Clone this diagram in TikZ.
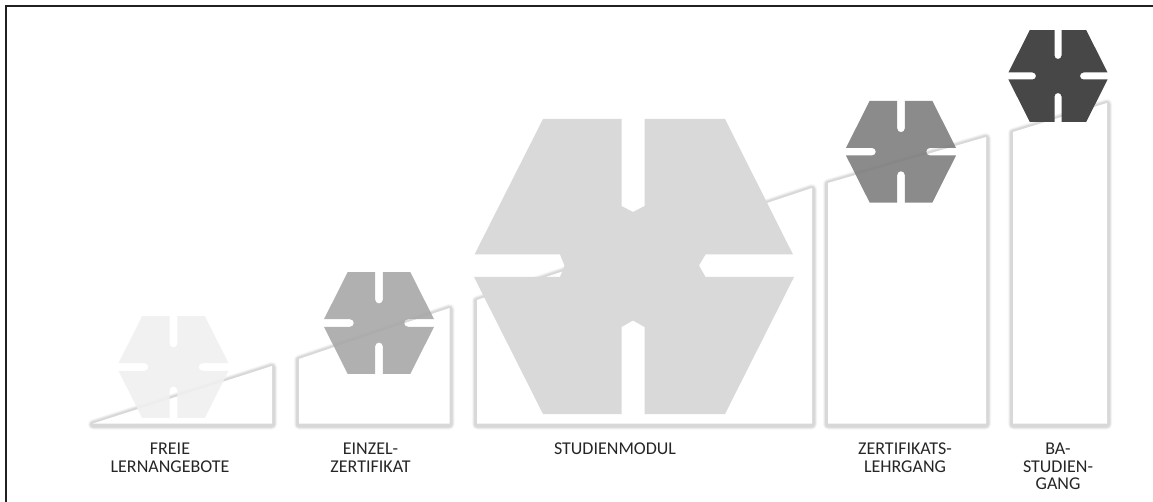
\documentclass[tikz,border=0pt]{standalone}
\usepackage{fontspec}
\setmainfont{Carlito}
% #1 x, #2 y, #3 style, #4 scale, #5 half slot width, #6 shoulder distance (vertical), #7 shoulder distance (horizontal)
\newcommand{\hexshape}[7]{%
\begin{scope}[shift={(#1,#2)}]
\path[#3] (-91*#4,-148*#4) -- (-#5,-148*#4) -- (-#5,-#6)
  .. controls (-#5,-#6+.55*#5) and (-.55*#5,-#6+#5) .. (0,-#6+#5)
  .. controls (.55*#5,-#6+#5) and (#5,-#6+.55*#5) .. (#5,-#6)
  -- (#5,-148*#4) -- (91*#4,-148*#4) -- (160*#4,-#5) -- (#7,-#5)
  .. controls (#7-.55*#5,-#5) and (#7-#5,-.55*#5) .. (#7-#5,0)
  .. controls (#7-#5,.55*#5) and (#7-.55*#5,#5) .. (#7,#5)
  -- (160*#4,#5) -- (91*#4,148*#4) -- (#5,148*#4) -- (#5,#6)
  .. controls (#5,#6-.55*#5) and (.55*#5,#6-#5) .. (0,#6-#5)
  .. controls (-.55*#5,#6-#5) and (-#5,#6-.55*#5) .. (-#5,#6)
  -- (-#5,148*#4) -- (-91*#4,148*#4) -- (-160*#4,#5) -- (-#7,#5)
  .. controls (-#7+.55*#5,#5) and (-#7+#5,.55*#5) .. (-#7+#5,0)
  .. controls (-#7+#5,-.55*#5) and (-#7+.55*#5,-#5) .. (-#7,-#5)
  -- (-160*#4,-#5) -- cycle;
\end{scope}}
\newcommand{\stepshape}[1]{%
\draw[shadowa] #1; \draw[shadowb] #1; \draw[shadowc] #1; \draw[shadowd] #1;
\fill[white] #1;}
\tikzset{x=1pt,y=-1pt,
 shadowa/.style={draw=black,draw opacity=.025,line width=10.5pt,line join=round,shift={(0,1)}},
 shadowb/.style={draw=black,draw opacity=.035,line width=9pt,line join=round,shift={(0,1)}},
 shadowc/.style={draw=black,draw opacity=.045,line width=7.5pt,line join=round,shift={(0,1)}},
 shadowd/.style={draw=black,draw opacity=.055,line width=6pt,line join=round,shift={(0,1)}},
 framing/.style={draw=black!87,line width=2pt},
 lbl/.style={font=\fontsize{18}{17.5}\selectfont,text=black!85,align=center,inner sep=0pt,anchor=north}}
\begin{document}
\begin{tikzpicture}
\useasboundingbox (0,0) rectangle (1153,502);
\fill[white] (0,0) rectangle (1153,502);
\draw[framing] (6,502) -- (6,6) -- (1153,6);
% steps
\stepshape{(93,423.5) -- (272,366) -- (272,423.5) -- cycle}
\stepshape{(299,359) -- (449.5,308) -- (449.5,423.5) -- (299,423.5) -- cycle}
\stepshape{(477,300) -- (812,188) -- (812,423.5) -- (477,423.5) -- cycle}
\stepshape{(828,183) -- (986,137) -- (986,423.5) -- (828,423.5) -- cycle}
\stepshape{(1013,132) -- (1107,103) -- (1107,423.5) -- (1013,423.5) -- cycle}
% hexagons
\hexshape{173.5}{367}{fill=black!6,fill opacity=.88}{.344}{3.8}{23.3}{29}
\hexshape{379}{323}{fill=black!35,fill opacity=.88}{.344}{3.8}{23.3}{29}
\hexshape{901}{151.7}{fill=black!51.4,fill opacity=.88}{.344}{3.8}{23.3}{29}
\hexshape{1058}{76}{fill=black!72}{.31}{3.5}{20.5}{25.5}
% large hexagon
\fill[black!15] (543,119) -- (621.5,119) -- (621.5,206) -- (633,212) -- (644.5,206) -- (644.5,119) -- (725,119)
 -- (793,254.5) -- (705.5,254.5) -- (699,265.5) -- (705.5,277) -- (794,277)
 -- (725,414) -- (644.5,414) -- (644.5,327) -- (633,320.5) -- (621.5,327) -- (621.5,414) -- (543,414)
 -- (474,277) -- (560,277) -- (564.5,265.5) -- (560,254.5) -- (474.5,254.5) -- cycle;
% labels
\node[lbl] (a) at (170,443) {FREIE\\LERNANGEBOTE};
\node[lbl] (b) at (370.5,443) {EINZEL-\\ZERTIFIKAT};
\node[lbl] (c) at (615,443) {STUDIENMODUL};
\node[lbl] (d) at (905,443) {ZERTIFIKATS-\\LEHRGANG};
\node[lbl] (e) at (1058,443) {BA-\\STUDIEN-\\GANG};
\end{tikzpicture}
\end{document}
